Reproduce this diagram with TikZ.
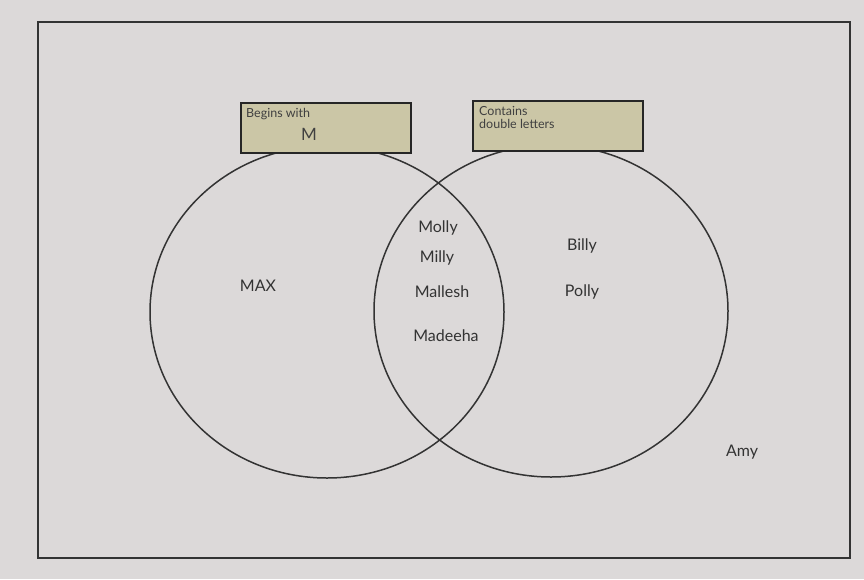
\documentclass[tikz,border=0pt]{standalone}
\usepackage{fontspec}
\setmainfont{Lato}
\begin{document}
\begin{tikzpicture}[x=1pt,y=-1pt,
  outline/.style={draw=black!80,line width=1.5pt},
  tagbox/.style={draw=black!85,line width=1.5pt,fill=labelfill,minimum width=170pt,minimum height=50pt,anchor=north west},
  tagtext/.style={font=\fontsize{12.5}{13.5}\selectfont,text=black!75,align=left,anchor=north west,inner sep=0pt},
  person/.style={font=\fontsize{16}{17}\selectfont,text=black!80}]
\definecolor{paper}{HTML}{DCD9D9}
\definecolor{labelfill}{HTML}{CBC6A6}
\useasboundingbox (0,0) rectangle (864,579);
\fill[paper] (0,0) rectangle (864,579);
\draw[outline] (38,22) rectangle (850,558);
\draw[outline] (327,312) ellipse [x radius=177, y radius=166];
\draw[outline] (551,311) ellipse [x radius=177, y radius=166];
\node[tagbox] (boxA) at (240,102) {};
\node[tagbox] (boxB) at (472,100) {};
\node[tagtext] (textA1) at (246,108) {Begins with};
\node[tagtext,font=\fontsize{17}{18}\selectfont] (textA2) at (301,128) {M};
\node[tagtext] (textB) at (479,106) {Contains\\double letters};
\node[person] (max) at (258,286) {MAX};
\node[person] (molly) at (438,228) {Molly};
\node[person] (milly) at (437,258) {Milly};
\node[person] (mallesh) at (442,292) {Mallesh};
\node[person] (madeeha) at (446,336) {Madeeha};
\node[person] (billy) at (582,246) {Billy};
\node[person] (polly) at (582,292) {Polly};
\node[person] (amy) at (742,452) {Amy};
\end{tikzpicture}
\end{document}
